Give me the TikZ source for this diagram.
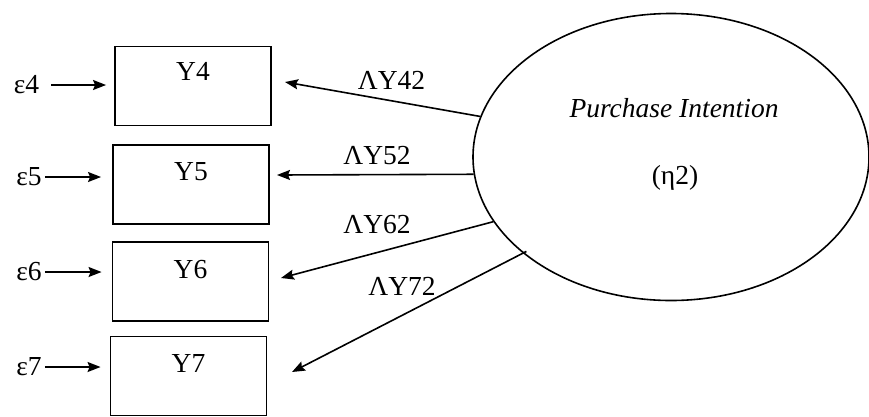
\documentclass[tikz,border=0pt]{standalone}
\usepackage{fontspec}
\setmainfont{Liberation Serif}
\usetikzlibrary{arrows.meta,shapes.geometric}
\begin{document}
\begin{tikzpicture}[x=1pt,y=-1pt,
  box/.style={draw, line width=1.9pt, minimum width=156pt, minimum height=79pt, inner sep=0pt},
  txt/.style={inner sep=0pt, font=\fontsize{27.5}{27.5}\selectfont},
  latent/.style={draw, ellipse, line width=1.6pt, minimum width=396pt, minimum height=287pt, inner sep=0pt},
  arr/.style={-{Stealth[length=13pt,width=10pt,inset=2pt]}, line width=1.6pt}]
\useasboundingbox (0,0) rectangle (869,416);

% observed indicators
\node[box] (y4) at (193,86)    {};
\node[box] (y5) at (191,184.5) {};
\node[box] (y6) at (190.5,281.5) {};
\node[box] (y7) at (188.5,376) {};
\node[txt] (t4) at (193,71)    {Y4};
\node[txt] (t5) at (191,172)   {Y5};
\node[txt] (t6) at (190.5,269.5) {Y6};
\node[txt] (t7) at (188.5,363.5) {Y7};

% error terms
\node[txt] (e4) at (26.5,85) {ε4};
\node[txt] (e5) at (29,177)  {ε5};
\node[txt] (e6) at (29,272)  {ε6};
\node[txt] (e7) at (29,367)  {ε7};
\draw[arr, shorten <=12pt, shorten >=8pt] (e4.east) -- (e4.east -| y4.west);
\draw[arr, shorten <=3pt,  shorten >=11pt] (e5.east) -- (e5.east -| y5.west);
\draw[arr, shorten <=3pt,  shorten >=10pt] (e6.east) -- (e6.east -| y6.west);
\draw[arr, shorten <=3pt,  shorten >=9pt] (e7.east) -- (e7.east -| y7.west);

% latent construct
\node[latent] (eta) at (671,157) {};
\node[txt] (pi) at (674,108) {\itshape Purchase Intention};
\node[txt] (eta2) at (675,178) {(η2)};

% loadings
\coordinate (l4) at (285,82);
\coordinate (l5) at (277,175);
\coordinate (l6) at (281,278);
\coordinate (l7) at (292,372);
\draw[arr] (eta.168) -- (l4);
\draw[arr] (eta.185.2) -- (l5);
\draw[arr] (eta.200.5) -- (l6);
\draw[arr, shorten <=-4pt] (eta.213.7) -- (l7);
\node[txt] (a4) at (391.5,80)  {ΛY42};
\node[txt] (a5) at (377,155.5) {ΛY52};
\node[txt] (a6) at (377,224.5) {ΛY62};
\node[txt] (a7) at (402,286)   {ΛY72};
\end{tikzpicture}
\end{document}
